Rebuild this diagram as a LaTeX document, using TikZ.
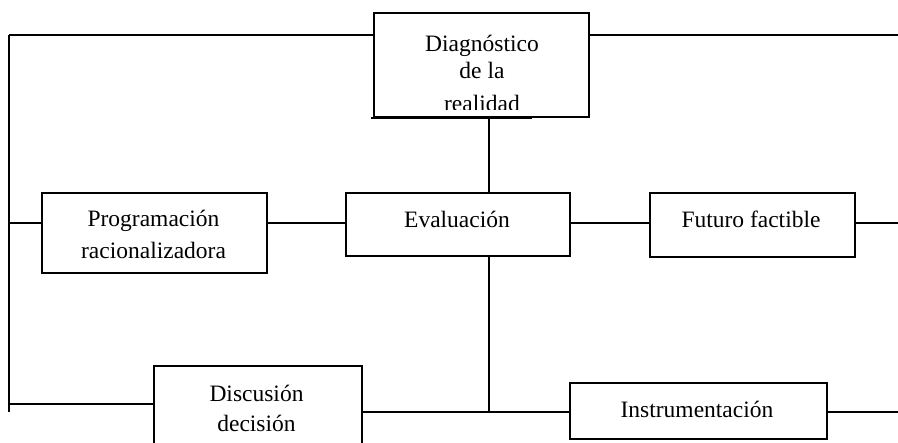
\documentclass[tikz,border=0pt]{standalone}
\usepackage{fontspec}
\setmainfont{Liberation Serif}
\begin{document}
\begin{tikzpicture}[x=1pt,y=-1pt,
  boxn/.style={draw, line width=1.6pt, inner sep=0pt, anchor=north west},
  lbl/.style={font=\fontsize{23.5}{27}\selectfont, anchor=base, inner sep=0pt},
  ln/.style={line width=1.6pt}]
\useasboundingbox (0,0) rectangle (898,443);
% boxes
\node[boxn, minimum width=215pt, minimum height=104pt] (diag) at (373,12) {};
\node[boxn, minimum width=225pt, minimum height=80pt] (prog) at (41,192) {};
\node[boxn, minimum width=224pt, minimum height=63pt] (eval) at (345,192) {};
\node[boxn, minimum width=205pt, minimum height=64pt] (fut) at (649,192) {};
\node[boxn, minimum width=208pt, minimum height=110pt] (disc) at (153,365) {};
\node[boxn, minimum width=257pt, minimum height=56pt] (instr) at (569,382) {};
% texts
\begin{scope}
\clip (373,12) rectangle (588,109.5);
\node[lbl] (t1) at (482,52) {Diagnóstico};
\node[lbl] (t2) at (482,79) {de la};
\node[lbl] (t3) at (482,112) {realidad};
\end{scope}
\node[lbl] (t4) at (153.5,227) {Programación};
\node[lbl] (t5) at (153.5,259) {racionalizadora};
\node[lbl] (t6) at (457,228) {Evaluación};
\node[lbl] (t7) at (751,228) {Futuro factible};
\node[lbl] (t8) at (256.5,402) {Discusión};
\node[lbl] (t9) at (256.5,432) {decisión};
\node[lbl] (t10) at (697,418) {Instrumentación};
% coordinates
\coordinate (TL) at (9,35);
\coordinate (TR) at (898,35);
\coordinate (BL) at (9,412);
\coordinate (DL) at (9,404);
\coordinate (VX) at (489,0);
\coordinate (BOT) at (0,412);
\coordinate (RE) at (898,0);
% connectors
\draw[ln] (TL) -- (TL -| diag.west);
\draw[ln] (TR -| diag.east) -- (TR);
\draw[ln] (TL) -- (BL);
\draw[ln] (TL |- 0,223) -- (prog.west |- 0,223);
\draw[ln] (DL) -- (DL -| disc.west);
\draw[ln] (VX |- diag.south) -- (VX |- eval.north);
\draw[ln] (VX |- eval.south) -- (VX |- BOT);
\draw[ln] (prog.east |- 0,223) -- (eval.west |- 0,223);
\draw[ln] (eval.east |- 0,223) -- (fut.west |- 0,223);
\draw[ln] (fut.east |- 0,223) -- (RE |- 0,223);
\draw[ln] (BOT -| disc.east) -- (BOT -| instr.west);
\draw[ln] (BOT -| instr.east) -- (BOT -| RE);
\draw[ln] (371,118) -- (532,118);
\end{tikzpicture}
\end{document}
